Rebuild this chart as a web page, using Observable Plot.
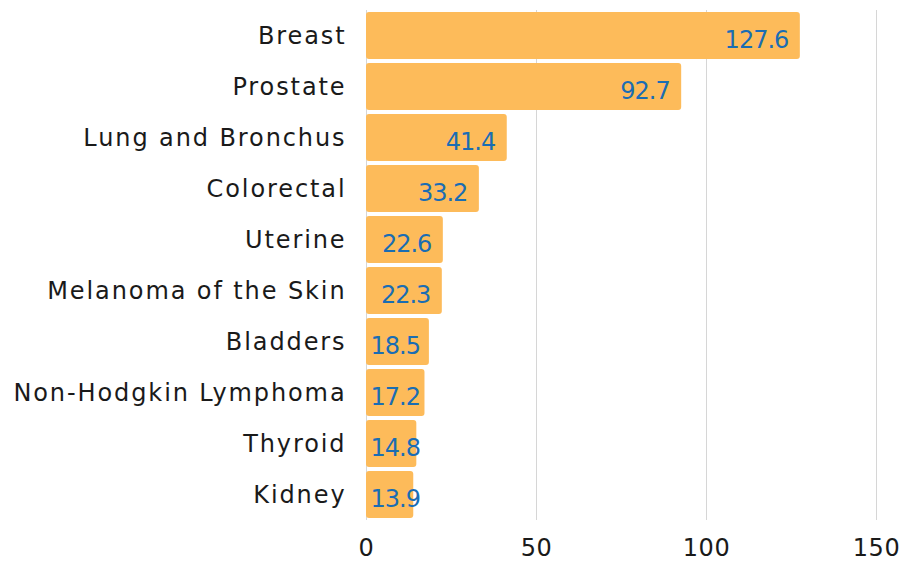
<!DOCTYPE html>
<html>
<head>
<meta charset="utf-8">
<script src="https://cdn.jsdelivr.net/npm/d3@7"></script>
<script src="https://cdn.jsdelivr.net/npm/@observablehq/plot@0.6"></script>
<style>
  html, body { margin: 0; padding: 0; background: #fff; }
  #chart svg { font-family: "DejaVu Sans", sans-serif; }
  #chart g[aria-label="y-axis tick label"] text { letter-spacing: 1.9px; }
  #chart g[aria-label="x-axis tick label"] text { letter-spacing: 0.5px; }
  #chart g[aria-label="text"] text { letter-spacing: -1px; }
</style>
</head>
<body>
<div id="chart"></div>
<script>
const categories = ["Breast", "Prostate", "Lung and Bronchus", "Colorectal", "Uterine", "Melanoma of the Skin", "Bladders", "Non-Hodgkin Lymphoma", "Thyroid", "Kidney"];
const values = [127.6, 92.7, 41.4, 33.2, 22.6, 22.3, 18.5, 17.2, 14.8, 13.9];
const xTicks = [0, 50, 100, 150];

const data = categories.map((c, i) => ({category: c, value: values[i]}));
const pxPerUnit = (876 - 366) / 150;
const labelW = v => String(v).length * 13.5;
const fitsInside = d => d.value * pxPerUnit - 12 >= labelW(d.value) + 4;

const chart = Plot.plot({
  width: 899,
  height: 562,
  marginLeft: 366,
  marginRight: 23,
  marginTop: 6,
  marginBottom: 38,
  style: {fontSize: "24px", fontFamily: "DejaVu Sans, sans-serif", color: "#1a1a1a"},
  x: {domain: [0, 150], ticks: xTicks, label: null},
  y: {domain: categories, label: null, padding: 0.07},
  marks: [
    Plot.ruleX(xTicks, {stroke: "#d6d6d6", strokeWidth: 1, strokeOpacity: 1, insetTop: 4, insetBottom: 4}),
    Plot.barX(data, {x: "value", y: "category", fill: "#fdbb5a", rx: 3}),
    Plot.text(data.filter(fitsInside), {x: "value", y: "category", text: d => d.value.toFixed(1), textAnchor: "end", dx: -12, dy: 4, fill: "#1a6db3", fontSize: 24}),
    Plot.text(data.filter(d => !fitsInside(d)), {x: 0, y: "category", text: d => d.value.toFixed(1), textAnchor: "start", dx: 4, dy: 4, fill: "#1a6db3", fontSize: 24}),
    Plot.axisY({tickSize: 0, tickPadding: 20, fontSize: 24}),
    Plot.axisX(xTicks, {tickSize: 0, tickPadding: 14, fontSize: 24})
  ]
});
document.getElementById("chart").appendChild(chart);
</script>
</body>
</html>
